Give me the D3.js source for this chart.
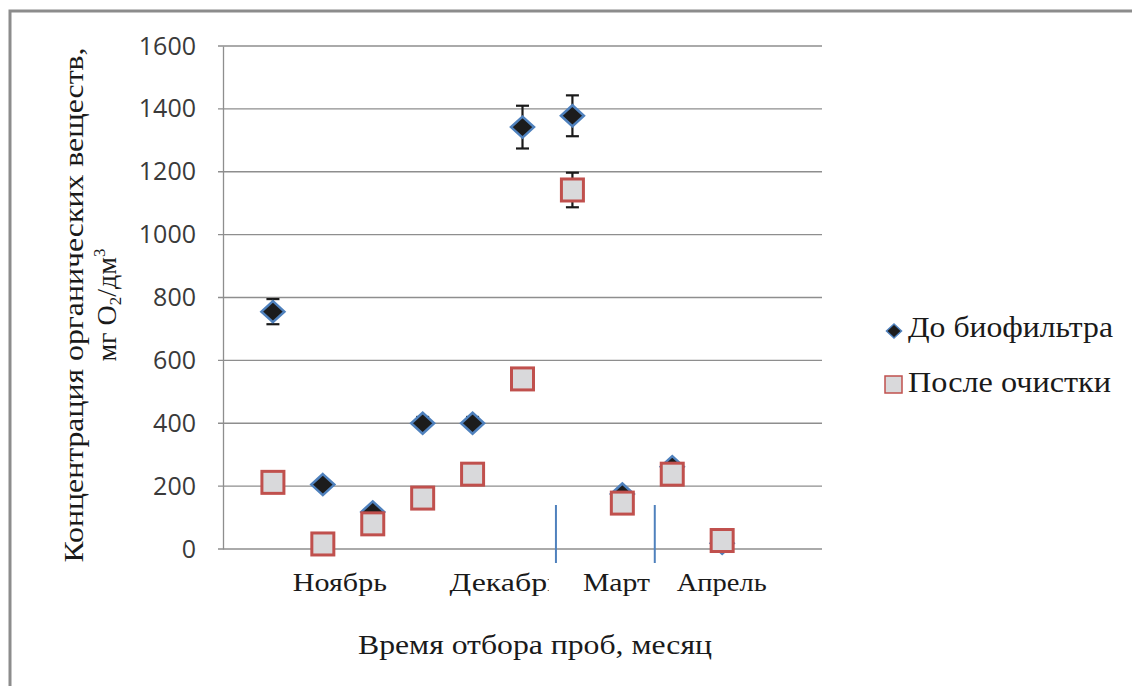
<!DOCTYPE html>
<html>
<head>
<meta charset="utf-8">
<script src="https://cdn.jsdelivr.net/npm/d3@7"></script>
<style>
  html, body { margin: 0; padding: 0; background: #fff; }
  svg { display: block; }
</style>
</head>
<body>
<svg id="chart" width="1132" height="686"></svg>
<script>
// Sampling points (scatter x positions) and measured values, mg O2/dm3
const samplePos = [1, 2, 3, 4, 5, 6, 7, 8, 9, 10];
const beforeFilter    = [755, 205, 118, 400, 400, 1342, 1378, 175, 262, 18];
const beforeErrPlus   = [40, 0, 0, 20, 20, 68, 65, 0, 0, 0];
const beforeErrMinus  = [40, 0, 0, 0, 0, 68, 65, 0, 0, 0];
const afterClean      = [212, 16, 80, 162, 238, 541, 1142, 146, 238, 27];
const afterErrPlus    = [0, 0, 0, 0, 0, 0, 55, 0, 0, 0];
const afterErrMinus   = [0, 0, 0, 0, 0, 0, 55, 0, 0, 0];

const seriesNames = ["До биофильтра", "После очистки"];
const monthLabels = ["Ноябрь", "Декабрь", "Март", "Апрель"];
const monthStarts = [1.4, 4.54, 7.21, 9.09];
const monthSeparators = [6.67, 8.65];
const yTicks = [0, 200, 400, 600, 800, 1000, 1200, 1400, 1600];

const svg = d3.select("#chart");
const serif = "'Liberation Serif', 'Times New Roman', serif";
const sans = "'Open Sans', 'Liberation Sans', sans-serif";
const ink = "#1a1a1a";

// outer frame (only top and left edges fall inside the canvas)
svg.append("path")
  .attr("d", "M10,690 L10,11 L1140,11")
  .attr("fill", "none").attr("stroke", "#8c8c8c").attr("stroke-width", 3);

const plot = { left: 223, right: 822, top: 46, bottom: 549 };
const x = d3.scaleLinear().domain([0, 12]).range([plot.left, plot.right]);
const y = d3.scaleLinear().domain([0, 1600]).range([plot.bottom, plot.top]);

// gridlines
svg.append("g")
  .selectAll("line").data(yTicks).join("line")
  .attr("x1", plot.left - 5).attr("x2", plot.right)
  .attr("y1", d => y(d)).attr("y2", d => y(d))
  .attr("stroke", "#8e8e8e").attr("stroke-width", 1.3);

// vertical axis
const yAxis = d3.axisLeft(y).tickValues(yTicks).tickFormat(d3.format("d"))
  .tickSize(0).tickPadding(27);
const gy = svg.append("g").attr("transform", `translate(${plot.left},0)`).call(yAxis);
gy.select(".domain").attr("stroke", "#8e8e8e").attr("stroke-width", 1.3);
gy.selectAll("text")
  .attr("font-family", sans).attr("font-size", 25).attr("fill", "#3a3a3a");

// month separators
svg.append("g").selectAll("line").data(monthSeparators).join("line")
  .attr("x1", d => x(d)).attr("x2", d => x(d))
  .attr("y1", 505).attr("y2", 563)
  .attr("stroke", "#4f81bd").attr("stroke-width", 2);

// month labels; the December label is cut off by its text box
const monthWidths = [94, 112, 67, 90];
svg.append("clipPath").attr("id", "decClip")
  .append("rect").attr("x", 0).attr("y", 560).attr("width", 549).attr("height", 50);
svg.append("g").selectAll("text").data(monthLabels).join("text")
  .attr("x", (d, i) => x(monthStarts[i]))
  .attr("y", 591)
  .attr("textLength", (d, i) => monthWidths[i])
  .attr("lengthAdjust", "spacingAndGlyphs")
  .attr("clip-path", (d, i) => i === 1 ? "url(#decClip)" : null)
  .attr("font-family", serif).attr("font-size", 25).attr("fill", ink)
  .text(d => d);

// error bars (drawn beneath the markers)
function errorBars(vals, plus, minus) {
  const g = svg.append("g").attr("stroke", ink).attr("stroke-width", 2.2);
  samplePos.forEach((p, i) => {
    if (!plus[i] && !minus[i]) return;
    const cx = x(p), yc = y(vals[i]);
    const y1 = y(vals[i] + plus[i]), y2 = y(vals[i] - minus[i]);
    g.append("line").attr("x1", cx).attr("x2", cx).attr("y1", y1).attr("y2", y2);
    [y1, y2].forEach(yy => {
      if (Math.abs(yy - yc) < 0.5) return;
      g.append("line").attr("x1", cx - 6.5).attr("x2", cx + 6.5).attr("y1", yy).attr("y2", yy);
    });
  });
}
errorBars(beforeFilter, beforeErrPlus, beforeErrMinus);
errorBars(afterClean, afterErrPlus, afterErrMinus);

const diamond = (rx, ry) => `M0,${-ry} L${rx},0 L0,${ry} L${-rx},0 Z`;

// "До биофильтра" markers
svg.append("g").selectAll("path").data(samplePos).join("path")
  .attr("transform", (d, i) => `translate(${x(d)},${y(beforeFilter[i])})`)
  .attr("d", diamond(11.5, 10.5))
  .attr("fill", "#1c1c1c").attr("stroke", "#4f81bd").attr("stroke-width", 2.5);

// "После очистки" markers
const sq = 22;
svg.append("g").selectAll("rect").data(samplePos).join("rect")
  .attr("x", d => x(d) - sq / 2)
  .attr("y", (d, i) => y(afterClean[i]) - sq / 2)
  .attr("width", sq).attr("height", sq)
  .attr("fill", "#d9d9db").attr("stroke", "#c0504d").attr("stroke-width", 3);

// legend
const legend = svg.append("g");
legend.append("path").attr("transform", "translate(894,331)")
  .attr("d", diamond(7.5, 7)).attr("fill", "#1c1c1c").attr("stroke", "#4f81bd").attr("stroke-width", 1.5);
legend.append("rect").attr("x", 885).attr("y", 376).attr("width", 17).attr("height", 17)
  .attr("fill", "#d9d9db").attr("stroke", "#c0504d").attr("stroke-width", 1.5);
const legendWidths = [205, 203];
legend.selectAll("text").data(seriesNames).join("text")
  .attr("x", 908).attr("y", (d, i) => 337 + i * 55)
  .attr("textLength", (d, i) => legendWidths[i])
  .attr("lengthAdjust", "spacingAndGlyphs")
  .attr("font-family", serif).attr("font-size", 30).attr("fill", ink)
  .text(d => d);

// axis titles
svg.append("text")
  .attr("transform", "translate(83,305) rotate(-90)")
  .attr("text-anchor", "middle")
  .attr("textLength", 515).attr("lengthAdjust", "spacingAndGlyphs")
  .attr("font-family", serif).attr("font-size", 28).attr("fill", ink)
  .text("Концентрация органических веществ,");
const yTitle2 = svg.append("text")
  .attr("transform", "translate(116,305) rotate(-90)")
  .attr("text-anchor", "middle")
  .attr("font-family", serif).attr("font-size", 28).attr("fill", ink);
yTitle2.append("tspan").text("мг O");
yTitle2.append("tspan").attr("font-size", 17).attr("dy", 5).text("2");
yTitle2.append("tspan").attr("dy", -5).text("/дм");
yTitle2.append("tspan").attr("font-size", 17).attr("dy", -11).text("3");

svg.append("text")
  .attr("x", 358).attr("y", 654)
  .attr("textLength", 354).attr("lengthAdjust", "spacingAndGlyphs")
  .attr("font-family", serif).attr("font-size", 28).attr("fill", ink)
  .text("Время отбора проб, месяц");
</script>
</body>
</html>
